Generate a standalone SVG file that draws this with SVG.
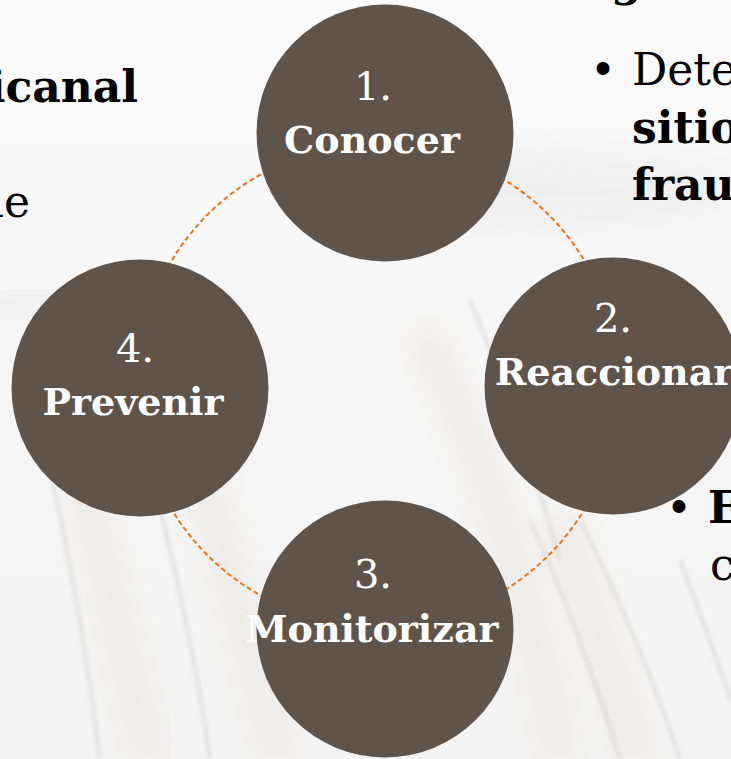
<svg xmlns="http://www.w3.org/2000/svg" width="731" height="759" viewBox="0 0 731 759">
  <defs>
    <linearGradient id="bg" x1="0" y1="0" x2="0" y2="1">
      <stop offset="0" stop-color="#fbfbfb"/>
      <stop offset="0.4" stop-color="#f7f7f7"/>
      <stop offset="1" stop-color="#f3f3f3"/>
    </linearGradient>
    <filter id="blurS" x="-20%" y="-20%" width="140%" height="140%">
      <feGaussianBlur stdDeviation="2.2"/>
    </filter>
    <filter id="blurL" x="-30%" y="-30%" width="160%" height="160%">
      <feGaussianBlur stdDeviation="14"/>
    </filter>
    <style>
      .node { fill: #605349; }
      .num { font-family: "DejaVu Serif", "Liberation Serif", serif; font-size: 40px; fill: #ffffff; text-anchor: middle; }
      .lbl { font-family: "DejaVu Serif", "Liberation Serif", serif; font-size: 38px; font-weight: bold; fill: #ffffff; text-anchor: middle; }
      .side { font-family: "DejaVu Serif", "Liberation Serif", serif; font-size: 44px; fill: #000000; }
      .b { font-weight: bold; }
      .ring { fill: none; stroke: #f27212; stroke-width: 2; stroke-dasharray: 5 3; }
      .stripe { stroke: #d6d5d5; stroke-width: 2.5; fill: none; filter: url(#blurS); }
      .band { stroke: #ece9e4; stroke-width: 30; fill: none; filter: url(#blurL); }
      .haze { fill: #e9e9e9; filter: url(#blurL); }
    </style>
  </defs>

  <g id="background">
    <rect x="0" y="0" width="731" height="759" fill="url(#bg)"/>
    <ellipse class="haze" cx="520" cy="190" rx="220" ry="40" opacity="0.6"/>
    <ellipse class="haze" cx="30" cy="305" rx="60" ry="10" opacity="0.8"/>
    <path class="band" d="M80 470 L 150 759"/>
    <path class="band" d="M200 470 L 280 759"/>
    <path class="band" d="M420 330 Q 520 520 560 759"/>
    <path class="band" d="M560 520 L 640 759"/>
    <path class="stripe" d="M50 470 Q 80 600 100 759"/>
    <path class="stripe" d="M150 470 Q 190 620 210 759"/>
    <path class="stripe" d="M470 300 Q 520 420 560 560"/>
    <path class="stripe" d="M530 520 Q 580 630 620 759"/>
    <path class="stripe" d="M580 520 Q 640 640 680 759"/>
    <path class="stripe" d="M680 560 Q 710 640 731 700"/>
  </g>

  <g id="connectors">
    <circle class="ring" cx="378" cy="385" r="241"/>
  </g>

  <g id="node-1">
    <circle class="node" cx="385" cy="133" r="128.5"/>
    <text class="num" x="373" y="100">1.</text>
    <text class="lbl" x="372" y="153">Conocer</text>
  </g>

  <g id="node-2">
    <circle class="node" cx="613" cy="386" r="128.5"/>
    <text class="num" x="613" y="332">2.</text>
    <text class="lbl" x="614" y="385">Reaccionar</text>
  </g>

  <g id="node-3">
    <circle class="node" cx="385" cy="629" r="128.5"/>
    <text class="num" x="373" y="588">3.</text>
    <text class="lbl" x="372" y="642">Monitorizar</text>
  </g>

  <g id="node-4">
    <circle class="node" cx="140" cy="388" r="128.5"/>
    <text class="num" x="135" y="362">4.</text>
    <text class="lbl" x="133" y="415">Prevenir</text>
  </g>

  <g id="side-text">
    <text class="side b" x="138" y="102" text-anchor="end">icanal</text>
    <text class="side" x="30" y="217" text-anchor="end">le</text>
    <text class="side b" x="611" y="-4">g</text>
    <text class="side" x="590" y="85">•</text>
    <text class="side" x="632" y="85">Dete</text>
    <text class="side b" x="632" y="143">sitio</text>
    <text class="side b" x="632" y="200">frau</text>
    <text class="side" x="666" y="523">•</text>
    <text class="side b" x="708" y="523">E</text>
    <text class="side" x="710" y="580">c</text>
  </g>
</svg>
